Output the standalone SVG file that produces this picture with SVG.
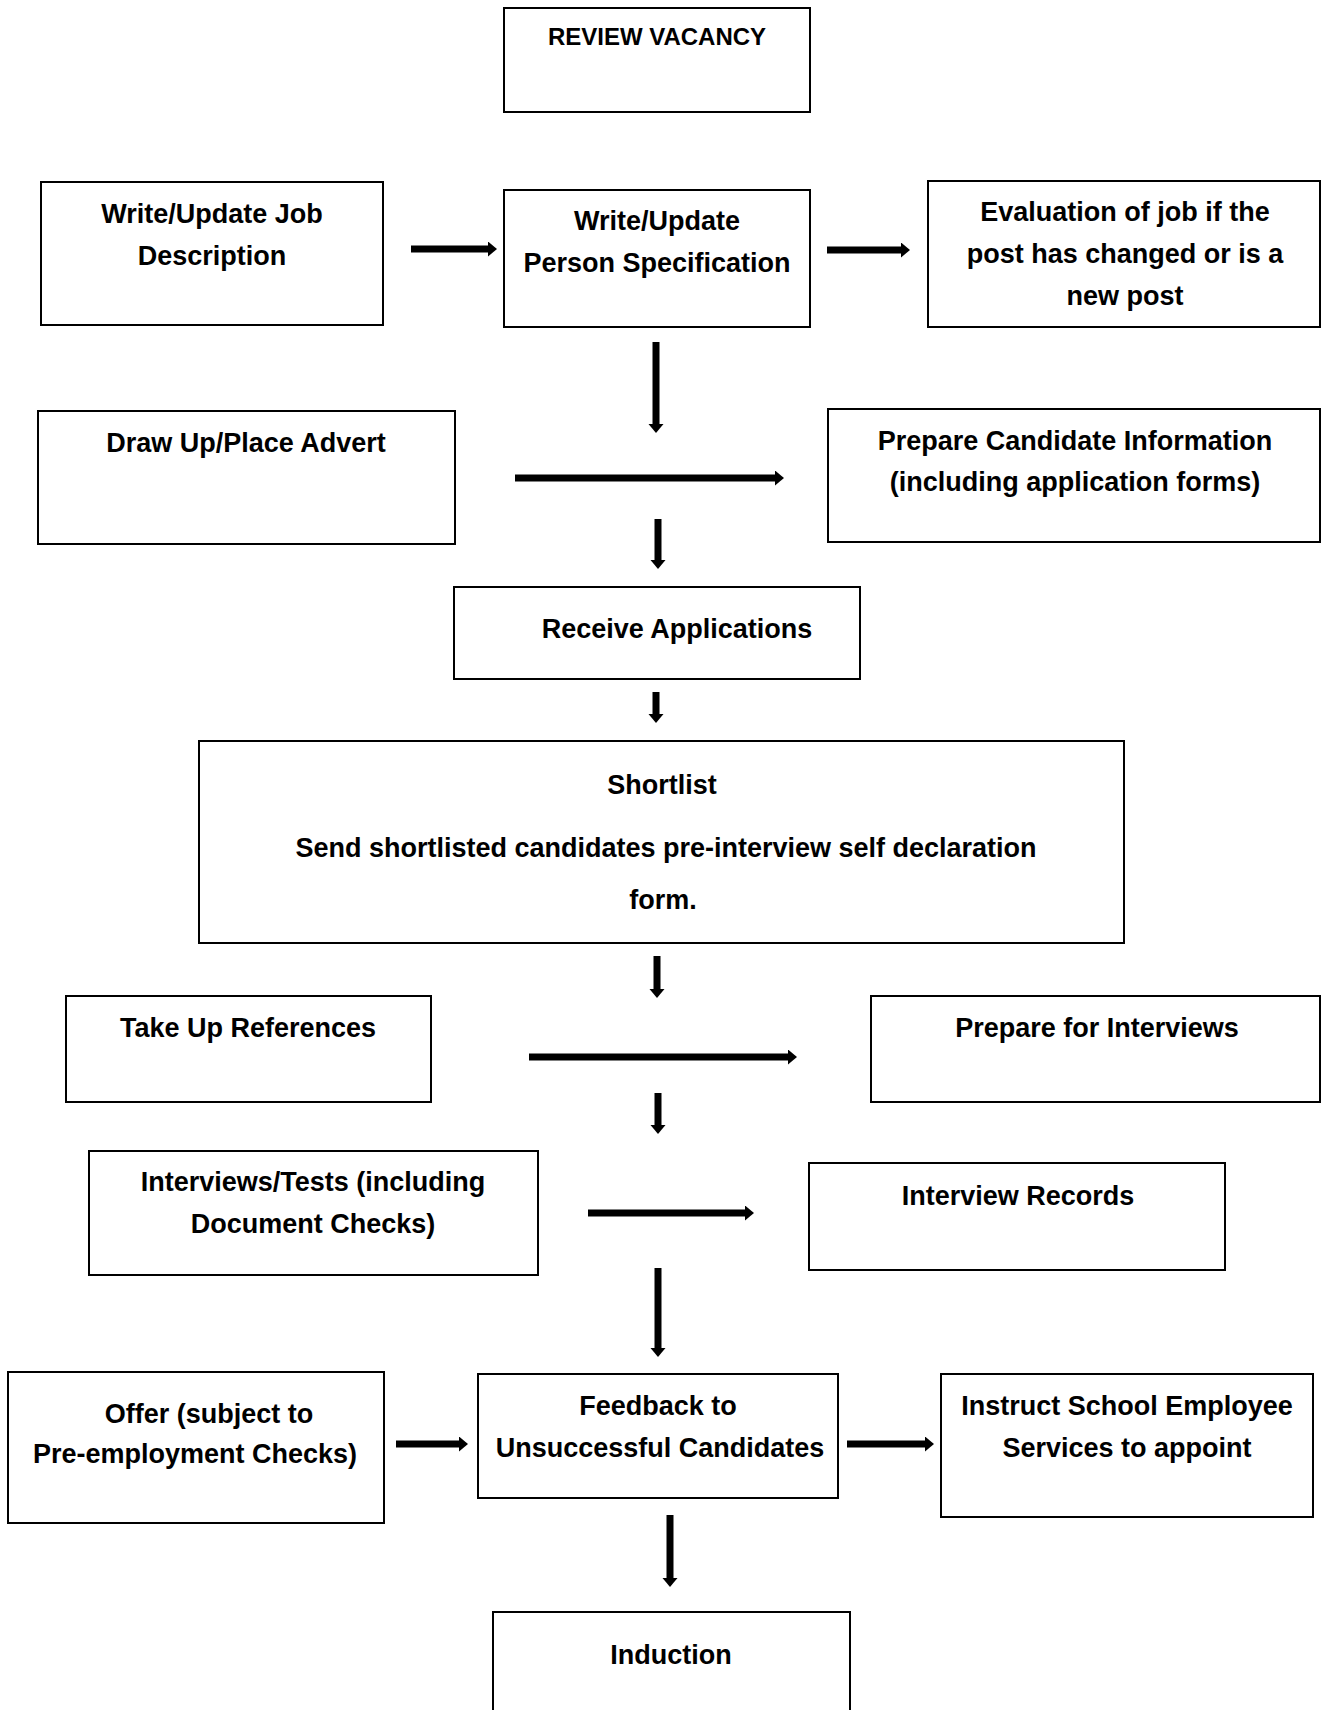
<svg xmlns="http://www.w3.org/2000/svg" width="1322" height="1710" viewBox="0 0 1322 1710">
<style>
.box{fill:#fff;stroke:#000;stroke-width:2}
.t{font-family:"Liberation Sans",Arial,sans-serif;font-weight:bold;font-size:27px;fill:#000;text-anchor:middle}
.t2{font-size:24px}
.c{stroke:#000;stroke-width:7;fill:none;marker-end:url(#ah)}
</style>
<defs>
<marker id="ah" markerUnits="userSpaceOnUse" markerWidth="10" markerHeight="16" refX="0" refY="7.5" orient="auto">
<path d="M0,0 L9,7.5 L0,15 z" fill="#000"/>
</marker>
</defs>
<rect width="1322" height="1710" fill="#fff"/>
<g id="connectors">
<line class="c" x1="411" y1="249" x2="488" y2="249"/>
<line class="c" x1="827" y1="250" x2="901" y2="250"/>
<line class="c" x1="656" y1="342" x2="656" y2="424"/>
<line class="c" x1="515" y1="478" x2="775" y2="478"/>
<line class="c" x1="658" y1="519" x2="658" y2="560"/>
<line class="c" x1="656" y1="692" x2="656" y2="714"/>
<line class="c" x1="657" y1="956" x2="657" y2="989"/>
<line class="c" x1="529" y1="1057" x2="788" y2="1057"/>
<line class="c" x1="658" y1="1093" x2="658" y2="1125"/>
<line class="c" x1="588" y1="1213" x2="745" y2="1213"/>
<line class="c" x1="658" y1="1268" x2="658" y2="1348"/>
<line class="c" x1="396" y1="1444" x2="459" y2="1444"/>
<line class="c" x1="847" y1="1444" x2="925" y2="1444"/>
<line class="c" x1="670" y1="1515" x2="670" y2="1578"/>
</g>
<g id="review-vacancy">
<rect class="box" x="504" y="8" width="306" height="104"/>
<text class="t t2" x="657" y="45">REVIEW VACANCY</text>
</g>
<g id="job-description">
<rect class="box" x="41" y="182" width="342" height="143"/>
<text class="t" x="212" y="223">Write/Update Job</text>
<text class="t" x="212" y="265">Description</text>
</g>
<g id="person-specification">
<rect class="box" x="504" y="190" width="306" height="137"/>
<text class="t" x="657" y="230">Write/Update</text>
<text class="t" x="657" y="272">Person Specification</text>
</g>
<g id="evaluation">
<rect class="box" x="928" y="181" width="392" height="146"/>
<text class="t" x="1125" y="221">Evaluation of job if the</text>
<text class="t" x="1125" y="263">post has changed or is a</text>
<text class="t" x="1125" y="305">new post</text>
</g>
<g id="advert">
<rect class="box" x="38" y="411" width="417" height="133"/>
<text class="t" x="246" y="452">Draw Up/Place Advert</text>
</g>
<g id="candidate-information">
<rect class="box" x="828" y="409" width="492" height="133"/>
<text class="t" x="1075" y="450">Prepare Candidate Information</text>
<text class="t" x="1075" y="491">(including application forms)</text>
</g>
<g id="receive-applications">
<rect class="box" x="454" y="587" width="406" height="92"/>
<text class="t" x="677" y="638">Receive Applications</text>
</g>
<g id="shortlist">
<rect class="box" x="199" y="741" width="925" height="202"/>
<text class="t" x="662" y="794">Shortlist</text>
<text class="t" x="666" y="857">Send shortlisted candidates pre-interview self declaration</text>
<text class="t" x="663" y="909">form.</text>
</g>
<g id="references">
<rect class="box" x="66" y="996" width="365" height="106"/>
<text class="t" x="248" y="1037">Take Up References</text>
</g>
<g id="prepare-interviews">
<rect class="box" x="871" y="996" width="449" height="106"/>
<text class="t" x="1097" y="1037">Prepare for Interviews</text>
</g>
<g id="interviews-tests">
<rect class="box" x="89" y="1151" width="449" height="124"/>
<text class="t" x="313" y="1191">Interviews/Tests (including</text>
<text class="t" x="313" y="1233">Document Checks)</text>
</g>
<g id="interview-records">
<rect class="box" x="809" y="1163" width="416" height="107"/>
<text class="t" x="1018" y="1205">Interview Records</text>
</g>
<g id="offer">
<rect class="box" x="8" y="1372" width="376" height="151"/>
<text class="t" x="209" y="1423">Offer (subject to</text>
<text class="t" x="195" y="1463">Pre-employment Checks)</text>
</g>
<g id="feedback">
<rect class="box" x="478" y="1374" width="360" height="124"/>
<text class="t" x="658" y="1415">Feedback to</text>
<text class="t" x="660" y="1457">Unsuccessful Candidates</text>
</g>
<g id="instruct">
<rect class="box" x="941" y="1374" width="372" height="143"/>
<text class="t" x="1127" y="1415">Instruct School Employee</text>
<text class="t" x="1127" y="1457">Services to appoint</text>
</g>
<g id="induction">
<rect class="box" x="493" y="1612" width="357" height="110"/>
<text class="t" x="671" y="1664">Induction</text>
</g>
</svg>
